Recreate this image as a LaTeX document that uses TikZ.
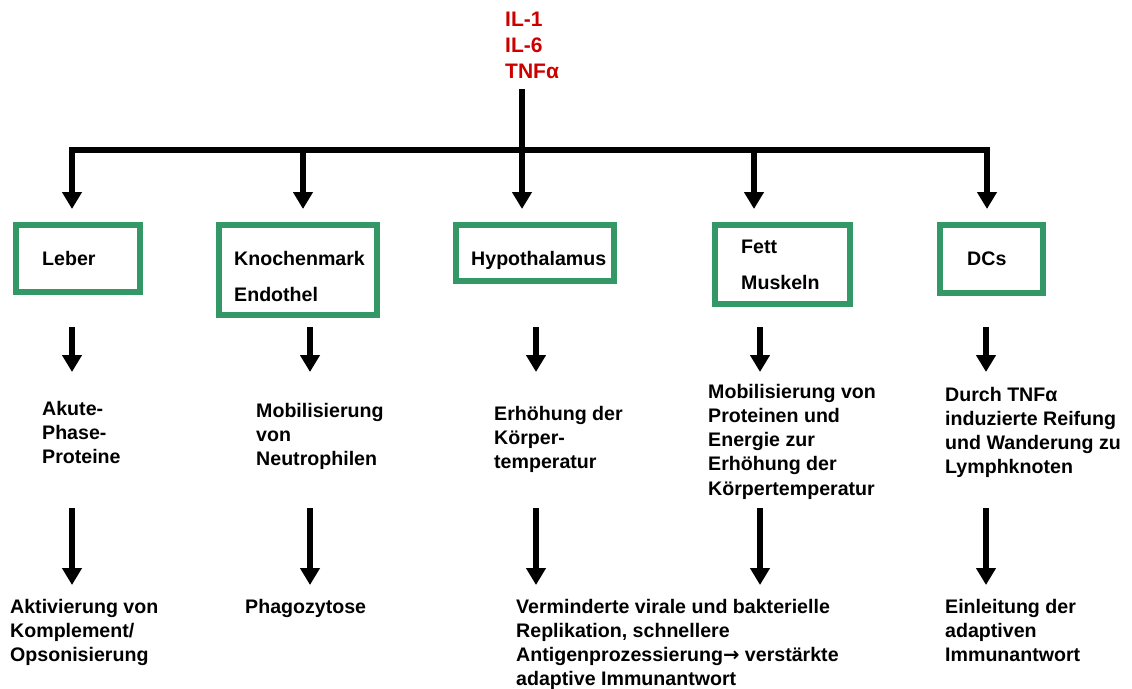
\documentclass[tikz,border=0pt]{standalone}
\usepackage{fontspec}
\setmainfont{Liberation Sans}
\newfontfamily\arrowfont{DejaVu Sans}
\usetikzlibrary{arrows.meta}
\definecolor{boxgreen}{RGB}{52,152,102}
\definecolor{cytred}{RGB}{204,0,0}
\tikzset{
  arr/.style={line width=5.5pt, -{Triangle[width=19pt,length=17pt]}},
  barline/.style={line width=5.5pt},
  box/.style={draw=boxgreen, line width=6pt, inner sep=0pt},
  txt/.style={font=\bfseries\fontsize{19.6}{24.3}\selectfont, align=left, inner sep=0pt, anchor=base west},
}
\begin{document}
\begin{tikzpicture}[x=1pt,y=-1pt]
\useasboundingbox (0,0) rectangle (1132,688);
% cytokines (anchor = baseline of last line)
\node[txt, text=cytred, font=\bfseries\fontsize{21}{26}\selectfont] (cyt) at (505,78.5) {IL-1\\IL-6\\TNFα};
% boxes
\node[box, minimum width=124pt, minimum height=67pt] (leber) at (78,258.5) {};
\node[box, minimum width=158pt, minimum height=90pt] (knochen) at (298,270) {};
\node[box, minimum width=158pt, minimum height=56pt] (hypo) at (535,253) {};
\node[box, minimum width=135pt, minimum height=79pt] (fett) at (782.5,264.5) {};
\node[box, minimum width=103pt, minimum height=68pt] (dcs) at (991.5,259) {};
% box texts
\node[txt] (leberT) at (42,265) {Leber};
\node[txt] (knochenT) at (234,301.8) {Knochenmark\\[12.5pt]Endothel};
\node[txt] (hypoT) at (471,265) {Hypothalamus};
\node[txt] (fettT) at (741,289) {Fett\\[11.7pt]Muskeln};
\node[txt] (dcsT) at (967,265) {DCs};
% second-level texts
\node[txt] (akute) at (42,463.6) {Akute-\\Phase-\\Proteine};
\node[txt] (mobN) at (256,465.6) {Mobilisierung\\von\\Neutrophilen};
\node[txt] (erh) at (494,468.6) {Erhöhung der\\Körper-\\temperatur};
\node[txt] (mobP) at (708,495.2) {Mobilisierung von\\Proteinen und\\Energie zur\\Erhöhung der\\Körpertemperatur};
\node[txt] (durch) at (945,473.9) {Durch TNFα\\induzierte Reifung\\und Wanderung zu\\Lymphknoten};
% bottom texts
\node[txt] (aktiv) at (10,661.6) {Aktivierung von\\Komplement/\\Opsonisierung};
\node[txt] (phago) at (245,613) {Phagozytose};
\node[txt] (vermin) at (516,685.9) {Verminderte virale und bakterielle\\Replikation, schnellere\\Antigenprozessierung{\arrowfont\bfseries →} verstärkte\\adaptive Immunantwort};
\node[txt] (einl) at (945,661.6) {Einleitung der\\adaptiven\\Immunantwort};
% bar and stem
\coordinate (j1) at (72,150);
\coordinate (j2) at (303,150);
\coordinate (j3) at (522,150);
\coordinate (j4) at (754,150);
\coordinate (j5) at (987,150);
\coordinate (stemtop) at (522,89);
\draw[barline] ([xshift=-2.75pt]j1) -- ([xshift=2.75pt]j5);
\draw[arr, shorten >=13pt] (stemtop) -- (j3 |- hypo.north);
\draw[arr, shorten >=13pt] (j1) -- (j1 |- leber.north);
\draw[arr, shorten >=13pt] (j2) -- (j2 |- knochen.north);
\draw[arr, shorten >=13pt] (j4) -- (j4 |- fett.north);
\draw[arr, shorten >=13pt] (j5) -- (j5 |- dcs.north);
% middle and lower arrows
\foreach \n/\x in {1/72,2/310,3/536,4/760,5/986}{
  \coordinate (m\n s) at (\x,327);
  \coordinate (m\n e) at (\x,372);
  \coordinate (l\n s) at (\x,508);
  \coordinate (l\n e) at (\x,585);
}
\foreach \n in {1,...,5}{
  \draw[arr] (m\n s) -- (m\n e);
  \draw[arr] (l\n s) -- (l\n e);
}
\end{tikzpicture}
\end{document}
